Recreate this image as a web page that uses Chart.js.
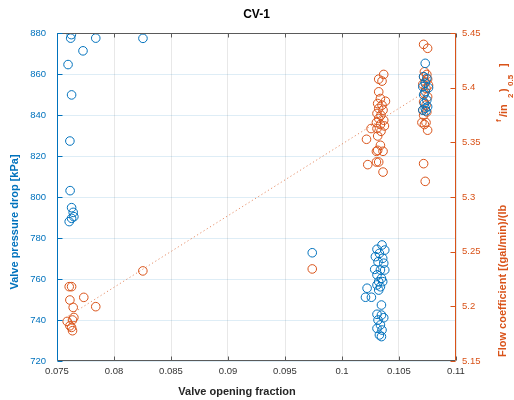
<!DOCTYPE html>
<html>
<head>
<meta charset="utf-8">
<script src="https://cdn.jsdelivr.net/npm/chart.js@4/dist/chart.umd.min.js"></script>
<style>
  html, body { margin: 0; padding: 0; background: #fff; }
  #wrap { width: 514px; height: 400px; }
</style>
</head>
<body>
<div id="wrap"><canvas id="cv1" width="514" height="400"></canvas></div>
<script>
// pressure drop across the valve (left axis)
const dpOpening = [
  0.07626, 0.0762, 0.0784, 0.08254, 0.07728, 0.07597, 0.07628, 0.07613, 0.07615, 0.07628,
  0.07642, 0.07648, 0.07628, 0.07607,
  0.09739,
  0.10351, 0.10307, 0.10375, 0.10328, 0.10293, 0.10357, 0.10316, 0.10366, 0.10287, 0.10337,
  0.10375, 0.10307, 0.10346, 0.10322, 0.10357, 0.10307, 0.10337, 0.10322, 0.10220, 0.10206,
  0.10258, 0.10346, 0.10307, 0.10346, 0.10366, 0.10316, 0.10337, 0.10307, 0.10351, 0.10328,
  0.10346,
  0.10730, 0.10716, 0.10744, 0.10730, 0.10709, 0.10759, 0.10730, 0.10716, 0.10744, 0.10723,
  0.10751, 0.10730, 0.10709, 0.10737
];
const dpKpa = [
  879.2, 877.5, 877.5, 877.4, 871.3, 864.6, 849.8, 827.3, 803.1, 794.8,
  792.5, 790.4, 789.6, 788.0,
  772.8,
  776.6, 774.5, 774.1, 772.5, 770.9, 770.1, 768.4, 767.7, 764.7, 764.4,
  764.4, 762.0, 760.3, 758.7, 758.7, 757.1, 756.2, 754.6, 755.5, 751.1,
  751.1, 747.3, 742.8, 742.4, 741.1, 740.0, 737.6, 735.9, 735.1, 732.7,
  731.9,
  865.2, 858.7, 857.9, 855.5, 853.8, 853.3, 851.4, 849.8, 847.3, 845.7,
  844.0, 843.3, 842.4, 842.0
];

// flow coefficient (right axis)
const cvOpening = [
  0.07607, 0.07628, 0.07735, 0.07613, 0.07642, 0.0784, 0.07648, 0.07636, 0.07589, 0.07613,
  0.07628, 0.07636, 0.08253, 0.09739,
  0.10366, 0.10322, 0.10351, 0.10322, 0.10337, 0.10381, 0.10313, 0.10351, 0.10322, 0.10360,
  0.10307, 0.10342, 0.10322, 0.10366, 0.10302, 0.10337, 0.10372, 0.10255, 0.10307, 0.10342,
  0.10313, 0.10215, 0.10337, 0.10313, 0.10360, 0.10302, 0.10226, 0.10302, 0.10322, 0.10360,
  0.10716, 0.10751, 0.10723, 0.10744, 0.10716, 0.10751, 0.10730, 0.10709, 0.10759, 0.10737,
  0.10723, 0.10751, 0.10716, 0.10737, 0.10709, 0.10744, 0.10716, 0.10701, 0.10737, 0.10723,
  0.10751, 0.10716, 0.10730
];
const cvValue = [
  5.2180, 5.2180, 5.2082, 5.2058, 5.1990, 5.1997, 5.1898, 5.1875, 5.1862, 5.1822,
  5.1807, 5.1777, 5.2324, 5.2342,
  5.4121, 5.4078, 5.4060, 5.3962, 5.3901, 5.3876, 5.3855, 5.3840, 5.3810, 5.3794,
  5.3764, 5.3748, 5.3718, 5.3702, 5.3681, 5.3663, 5.3650, 5.3626, 5.3626, 5.3601,
  5.3558, 5.3528, 5.3473, 5.3427, 5.3418, 5.3418, 5.3296, 5.3320, 5.3320, 5.3228,
  5.4396, 5.4360, 5.4145, 5.4121, 5.4099, 5.4078, 5.4053, 5.4030, 5.4023, 5.3993,
  5.3947, 5.3916, 5.3870, 5.3840, 5.3794, 5.3778, 5.3748, 5.3681, 5.3681, 5.3663,
  5.3611, 5.3305, 5.3143
];

// linear fit of the flow coefficient
const fitOpening = [0.0760, 0.1076];
const fitCv = [5.1912, 5.3982];

const xTicks = [0.075, 0.08, 0.085, 0.09, 0.095, 0.1, 0.105, 0.11];
const dpTicks = [720, 740, 760, 780, 800, 820, 840, 860, 880];
const cvTicks = [5.15, 5.2, 5.25, 5.3, 5.35, 5.4, 5.45];

const BLUE = '#0072BD';
const ORANGE = '#D95319';
const FONT = '"Liberation Sans", Arial, Helvetica, sans-serif';

const pts = (xs, ys) => xs.map((x, i) => ({ x: x, y: ys[i] }));
const useTicks = list => scale => { scale.ticks = list.map(v => ({ value: v })); };

function vText(ctx, txt, x, y, font, color) {
  ctx.save();
  ctx.translate(x, y);
  ctx.rotate(-Math.PI / 2);
  ctx.font = font;
  ctx.fillStyle = color;
  ctx.textAlign = 'left';
  ctx.textBaseline = 'middle';
  ctx.fillText(txt, 0, 0);
  ctx.restore();
}

// frame, inward ticks and all the titles
const decor = {
  id: 'decor',
  afterDatasetsDraw(chart) {
    const { ctx, chartArea: a, scales } = chart;
    ctx.save();
    ctx.lineWidth = 1;
    const line = (x1, y1, x2, y2, c) => {
      ctx.strokeStyle = c;
      ctx.beginPath(); ctx.moveTo(x1, y1); ctx.lineTo(x2, y2); ctx.stroke();
    };
    const L = Math.round(a.left) + 0.5, R = Math.round(a.right) - 0.5;
    const T = Math.round(a.top) + 0.5, B = Math.round(a.bottom) - 0.5;
    line(L, T, R, T, '#5a5a5a');
    line(L, B, R, B, '#5a5a5a');
    scales.x.ticks.forEach(t => {
      const px = Math.round(scales.x.getPixelForValue(t.value)) + 0.5;
      line(px, T, px, T + 4, '#5a5a5a');
      line(px, B, px, B - 4, '#5a5a5a');
    });
    scales.y.ticks.forEach(t => {
      const py = Math.round(scales.y.getPixelForValue(t.value)) + 0.5;
      line(L, py, L + 5, py, BLUE);
    });
    scales.y2.ticks.forEach(t => {
      const py = Math.round(scales.y2.getPixelForValue(t.value)) + 0.5;
      line(R, py, R - 5, py, ORANGE);
    });
    line(L, T, L, B, BLUE);
    line(R, T, R, B, ORANGE);

    ctx.fillStyle = '#000';
    ctx.font = 'bold 12px ' + FONT;
    ctx.textAlign = 'center';
    ctx.textBaseline = 'middle';
    ctx.fillText('CV-1', (a.left + a.right) / 2, 15);

    ctx.fillStyle = '#262626';
    ctx.font = 'bold 11px ' + FONT;
    ctx.fillText('Valve opening fraction', 237, 392);

    const b11 = 'bold 11px ' + FONT, b8 = 'bold 8px ' + FONT;
    ctx.font = b11;
    const w = ctx.measureText('Valve pressure drop [kPa]').width;
    vText(ctx, 'Valve pressure drop [kPa]', 15, 222 + w / 2, b11, BLUE);

    vText(ctx, 'Flow coefficient [(gal/min)/(lb', 503, 357, b11, ORANGE);
    vText(ctx, 'f', 499, 122, b8, ORANGE);
    vText(ctx, '/in', 504, 117, b11, ORANGE);
    vText(ctx, '2', 511, 98, b8, ORANGE);
    vText(ctx, ')', 504, 92, b11, ORANGE);
    vText(ctx, '0.5', 511, 86, b8, ORANGE);
    vText(ctx, ']', 504, 67, b11, ORANGE);
    ctx.restore();
  }
};

new Chart(document.getElementById('cv1'), {
  type: 'scatter',
  data: {
    datasets: [
      {
        label: 'dp',
        data: pts(dpOpening, dpKpa),
        yAxisID: 'y',
        borderColor: BLUE,
        backgroundColor: 'rgba(0,0,0,0)',
        borderWidth: 1,
        pointRadius: 4.3,
        order: 0
      },
      {
        label: 'cv',
        data: pts(cvOpening, cvValue),
        yAxisID: 'y2',
        borderColor: ORANGE,
        backgroundColor: 'rgba(0,0,0,0)',
        borderWidth: 1,
        pointRadius: 4.3,
        order: 1
      },
      {
        type: 'line',
        label: 'fit',
        data: pts(fitOpening, fitCv),
        yAxisID: 'y2',
        borderColor: 'rgba(217,83,25,0.65)',
        borderWidth: 1,
        borderDash: [1.2, 2.6],
        pointRadius: 0,
        fill: false,
        order: 2
      }
    ]
  },
  options: {
    responsive: false,
    animation: false,
    layout: { padding: { top: 33, left: 0, right: 0, bottom: 0 } },
    plugins: { legend: { display: false }, tooltip: { enabled: false } },
    scales: {
      x: {
        type: 'linear',
        min: 0.075,
        max: 0.11,
        afterBuildTicks: useTicks(xTicks),
        afterFit: s => { s.height = 39; },
        grid: { color: 'rgba(0,0,0,0.09)', drawTicks: false },
        border: { display: false },
        ticks: {
          padding: 5,
          color: '#333',
          font: { family: FONT, size: 9.5 },
          callback: v => String(parseFloat(v.toFixed(3)))
        }
      },
      y: {
        position: 'left',
        min: 720,
        max: 880,
        afterBuildTicks: useTicks(dpTicks),
        afterFit: s => { s.width = 57; },
        grid: { color: 'rgba(0,114,189,0.13)', drawTicks: false },
        border: { display: false },
        ticks: {
          padding: 11,
          color: BLUE,
          font: { family: FONT, size: 9.5 }
        }
      },
      y2: {
        position: 'right',
        min: 5.15,
        max: 5.45,
        afterBuildTicks: useTicks(cvTicks),
        afterFit: s => { s.width = 58; },
        grid: { display: false, drawTicks: false },
        border: { display: false },
        ticks: {
          padding: 6,
          color: ORANGE,
          font: { family: FONT, size: 9.5 },
          callback: v => String(parseFloat(v.toFixed(2)))
        }
      }
    }
  },
  plugins: [decor]
});
</script>
</body>
</html>
